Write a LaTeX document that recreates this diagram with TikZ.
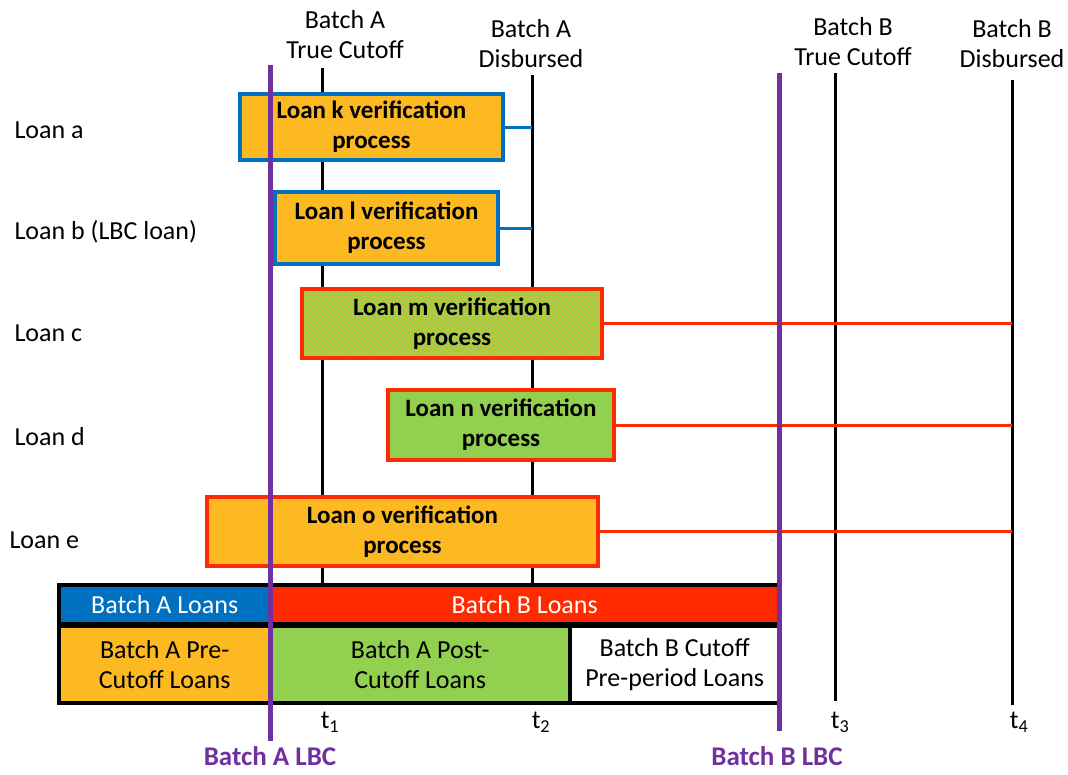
\documentclass[tikz,border=0pt]{standalone}
\usepackage{fontspec}
\setmainfont{Carlito}
\usetikzlibrary{patterns}

\definecolor{loanorange}{HTML}{FDB922}
\definecolor{loangreen}{HTML}{92D050}
\definecolor{loanred}{HTML}{FF2A00}
\definecolor{loanblue}{HTML}{0070C0}
\definecolor{lbcpurple}{HTML}{7030A0}

\newcommand\bigfont{\fontsize{26}{30}\selectfont}
\newcommand\boldfont{\fontsize{25}{30}\selectfont\bfseries}

\tikzset{
	loanbox/.style={draw, line width=4pt, align=center, inner sep=0pt, font=\boldfont},
	earlybox/.style={loanbox, draw=loanblue, fill=loanorange},
	latebox/.style={loanbox, draw=loanred},
	cell/.style={anchor=north west, inner sep=0pt, align=center, font=\bigfont},
	timeline/.style={line width=3pt, black},
	lbcline/.style={line width=5pt, lbcpurple},
	lbclabel/.style={inner sep=0pt, text=lbcpurple, font=\fontsize{27}{30}\selectfont\bfseries},
	toplabel/.style={align=center, font=\bigfont},
}

\begin{document}
\begin{tikzpicture}[x=1pt, y=-1pt]
	\useasboundingbox (0,0) rectangle (1068,774);

	% time lines
	\coordinate (t1top) at (322,68);  \coordinate (t1bot) at (322,583);
	\coordinate (t2top) at (532,75);  \coordinate (t2bot) at (532,583);
	\coordinate (t3top) at (835,73);  \coordinate (t3bot) at (835,701);
	\coordinate (t4top) at (1012,80); \coordinate (t4bot) at (1012,705);
	\foreach \t in {t1,t2,t3,t4}
		\draw [timeline] (\t top) -- (\t bot);

	% loans
	\node [earlybox, minimum width=263pt, minimum height=66pt] (k) at (371.5,127) {Loan k verification\\process};
	\node [earlybox, minimum width=223pt, minimum height=72pt] (l) at (386.5,228) {Loan l verification\\process};
	\node [latebox, preaction={fill=loangreen}, pattern=north west lines, pattern color=loanorange!80!loangreen, minimum width=300pt, minimum height=69pt] (m) at (452,323.5) {Loan m verification\\process};
	\node [latebox, fill=loangreen, minimum width=226pt, minimum height=70pt] (n) at (501,425) {Loan n verification\\process};
	\node [latebox, fill=loanorange, minimum width=391pt, minimum height=69pt] (o) at (402.5,531.5) {Loan o verification\\process};

	\draw [line width=3pt, loanblue] (k.east) -- (k.east -| t2top);
	\draw [line width=3pt, loanblue] (l.east) -- (l.east -| t2top);
	\foreach \b in {m,n,o}
		\draw [line width=3pt, loanred] (\b.east) -- (\b.east -| t4top);

	% row labels
	\node [anchor=west, font=\bigfont] (la) at (11,130) {Loan a};
	\node [anchor=west, font=\bigfont] (lb) at (11,232) {Loan b (LBC loan)};
	\node [anchor=west, font=\bigfont] (lc) at (11,333) {Loan c};
	\node [anchor=west, font=\bigfont] (ld) at (11,437) {Loan d};
	\node [anchor=west, font=\bigfont] (le) at (6,540) {Loan e};

	% batch table
	\fill [black] (57,583) rectangle (781,705);
	\node [cell, fill=loanblue, text=white, minimum width=207pt, minimum height=35pt] (batchA) at (61,587) {Batch A Loans};
	\node [cell, fill=loanred, text=white, minimum width=505pt, minimum height=35pt] (batchB) at (272,587) {Batch B Loans};
	\node [cell, fill=loanorange, minimum width=207pt, minimum height=73pt] (preA) at (61,628) {Batch A Pre-\\Cutoff Loans};
	\node [cell, fill=loangreen, minimum width=296pt, minimum height=73pt] (postA) at (272,628) {Batch A Post-\\Cutoff Loans};
	\node [cell, fill=white, minimum width=205pt, minimum height=73pt] (preB) at (572,628) {Batch B Cutoff\\Pre-period Loans};

	% LBC lines
	\draw [lbcline] (270,65) -- (270,741);
	\draw [lbcline] (779,73) -- (779,731);

	% labels
	\node [toplabel] (cutA) at (345,35) {Batch A\\True Cutoff};
	\node [toplabel] (disA) at (531,44) {Batch A\\Disbursed};
	\node [toplabel] (cutB) at (853,42) {Batch B\\True Cutoff};
	\node [toplabel] (disB) at (1012,44) {Batch B\\Disbursed};

	\node [font=\bigfont] (lt1) at (330,722) {t\textsubscript{1}};
	\node [font=\bigfont] (lt2) at (541,722) {t\textsubscript{2}};
	\node [font=\bigfont] (lt3) at (840,722) {t\textsubscript{3}};
	\node [font=\bigfont] (lt4) at (1019,722) {t\textsubscript{4}};

	\node [lbclabel] (lbcA) at (270,756) {Batch A LBC};
	\node [lbclabel] (lbcB) at (777,756) {Batch B LBC};
\end{tikzpicture}
\end{document}
